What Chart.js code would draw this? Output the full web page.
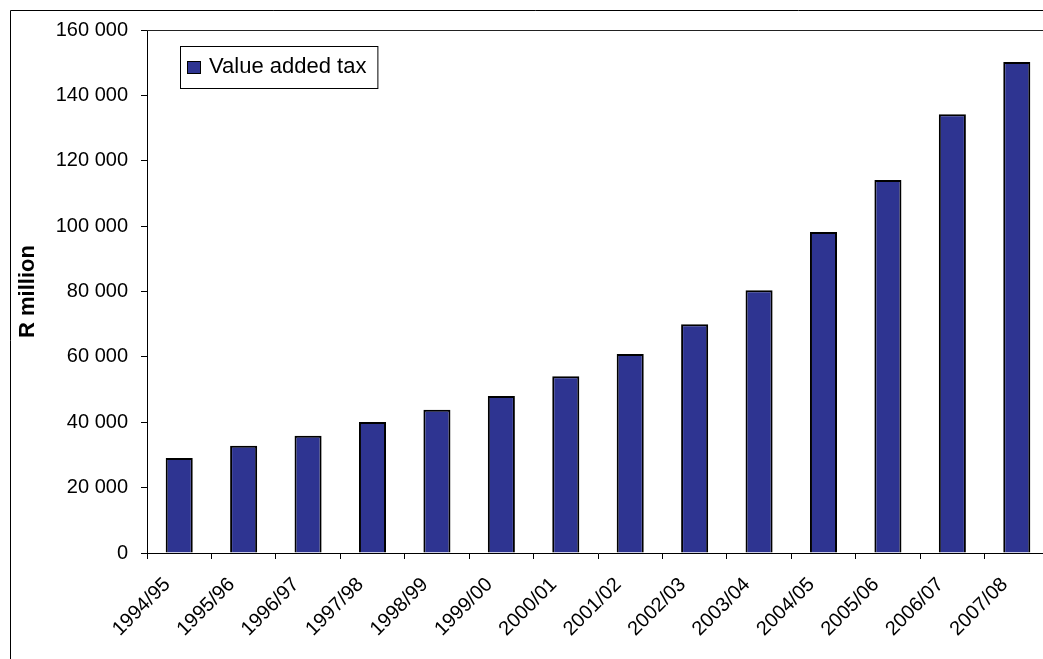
<!DOCTYPE html>
<html>
<head>
<meta charset="utf-8">
<script src="https://cdn.jsdelivr.net/npm/chart.js@4.4.1/dist/chart.umd.min.js"></script>
<style>
  html, body { margin: 0; padding: 0; background: #fff; overflow: hidden; }
  #wrap { width: 1060px; height: 670px; }
</style>
</head>
<body>
<div id="wrap"><canvas id="vatChart" width="1060" height="670"></canvas></div>
<script>
const years = ['1994/95', '1995/96', '1996/97', '1997/98', '1998/99', '1999/00', '2000/01',
  '2001/02', '2002/03', '2003/04', '2004/05', '2005/06', '2006/07', '2007/08'];
const vatValues = [29100, 32800, 35900, 40100, 43800, 48000, 54100,
  60900, 70000, 80400, 98200, 114100, 134200, 150200];
const yTicks = [0, 20000, 40000, 60000, 80000, 100000, 120000, 140000, 160000];

const barColor = '#2e3491';
const fontFamily = 'Arial, "Liberation Sans", sans-serif';

// thousands with a space, like "120 000"
function spaced(v) {
  return String(v).replace(/\B(?=(\d{3})+(?!\d))/g, ' ');
}

// outer frame + top edge of the plot area
const framePlugin = {
  id: 'frame',
  afterDraw(chart) {
    const { ctx, chartArea } = chart;
    ctx.save();
    ctx.strokeStyle = '#000';
    ctx.lineWidth = 1;
    ctx.beginPath();
    ctx.moveTo(10.5, chart.height + 5);
    ctx.lineTo(10.5, 10.5);
    ctx.lineTo(chart.width + 5, 10.5);
    ctx.stroke();
    ctx.strokeStyle = '#222';
    ctx.beginPath();
    ctx.moveTo(chartArea.left, Math.round(chartArea.top) + 0.5);
    ctx.lineTo(chartArea.right, Math.round(chartArea.top) + 0.5);
    ctx.stroke();
    ctx.restore();
  }
};

// legend box sitting inside the plot
const boxLegend = {
  id: 'boxLegend',
  afterDraw(chart) {
    const { ctx } = chart;
    const ds = chart.data.datasets[0];
    const x = 180, y = 46, h = 42;
    ctx.save();
    ctx.font = '22px ' + fontFamily;
    const tw = ctx.measureText(ds.label).width;
    const w = 29 + tw + 11;
    ctx.fillStyle = '#fff';
    ctx.fillRect(x, y, w, h);
    ctx.strokeStyle = '#000';
    ctx.lineWidth = 1;
    ctx.strokeRect(x + 0.5, y + 0.5, w, h);
    ctx.fillStyle = ds.backgroundColor;
    ctx.fillRect(x + 7.5, y + 15.5, 13, 12);
    ctx.strokeRect(x + 7.5, y + 15.5, 13, 12);
    ctx.fillStyle = '#000';
    ctx.textBaseline = 'alphabetic';
    ctx.fillText(ds.label, x + 29, y + 27);
    ctx.restore();
  }
};

new Chart(document.getElementById('vatChart'), {
  type: 'bar',
  data: {
    labels: years,
    datasets: [{
      label: 'Value added tax',
      data: vatValues,
      backgroundColor: barColor,
      borderColor: '#000',
      borderWidth: 2,
      barPercentage: 1,
      categoryPercentage: 0.42,
    }],
  },
  options: {
    responsive: false,
    animation: false,
    layout: { padding: { left: 0, top: 30, right: 11, bottom: 0 } },
    plugins: {
      legend: { display: false },
      tooltip: { enabled: false },
    },
    scales: {
      x: {
        offset: true,
        grid: { display: true, drawOnChartArea: false, drawTicks: true, tickLength: 6, color: '#000', offset: true },
        border: { display: true, color: '#000', width: 1 },
        ticks: {
          color: '#000',
          font: { family: fontFamily, size: 20 },
          minRotation: 45,
          maxRotation: 45,
          padding: 14,
          labelOffset: -12,
        },
        afterFit(scale) { scale.height = 670 - 553; },
      },
      y: {
        min: 0,
        max: 160000,
        afterBuildTicks(scale) { scale.ticks = yTicks.map((v) => ({ value: v })); },
        grid: { display: true, drawOnChartArea: false, drawTicks: true, tickLength: 6, color: '#000' },
        border: { display: true, color: '#000', width: 1 },
        ticks: {
          color: '#000',
          font: { family: fontFamily, size: 20 },
          padding: 13,
          callback: (v) => spaced(v),
        },
        title: {
          display: true,
          text: 'R million',
          color: '#000',
          font: { family: fontFamily, size: 22, weight: 'bold' },
          padding: { top: 15, bottom: 0 },
        },
        afterFit(scale) { scale.width = 147; },
      },
    },
  },
  plugins: [framePlugin, boxLegend],
});
</script>
</body>
</html>
